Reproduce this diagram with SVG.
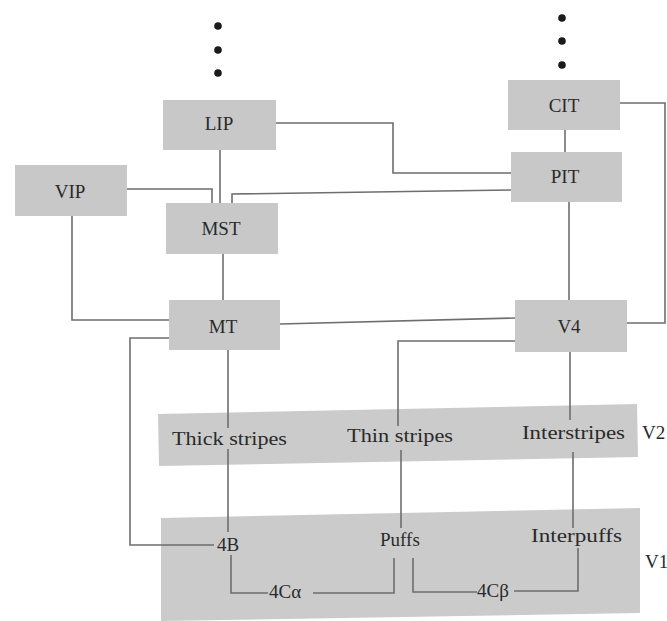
<svg xmlns="http://www.w3.org/2000/svg" width="667" height="621" viewBox="0 0 667 621">
<style>
.box{fill:#c8c8c8;stroke:none}
.bar{fill:#cbcbcb;stroke:none}
.lbl{font-family:"Liberation Serif","Times New Roman",serif;font-size:19px;fill:#2a2a2a;text-anchor:middle}
.sm{font-family:"Liberation Serif","Times New Roman",serif;font-size:19px;fill:#2a2a2a}
.ln{fill:none;stroke:#6e6e6e;stroke-width:1.6}
.dot{fill:#1a1a1a}
</style>
<rect width="667" height="621" fill="#ffffff"/>
<g id="V2">
<polygon class="bar" points="158,414 637,404 638,457 159,466"/>
</g>
<g id="V1">
<polygon class="bar" points="161,518 640,508 640,613 161,621"/>
</g>
<g id="connectors">
<path class="ln" d="M276,123 H393 V173 H511"/>
<path class="ln" d="M220,150 V203"/>
<path class="ln" d="M127,189 H212 V203"/>
<path class="ln" d="M511,190 L232,194 V203"/>
<path class="ln" d="M565,130 V152"/>
<path class="ln" d="M620,103 H665 V323 H627"/>
<path class="ln" d="M569,202 V300"/>
<path class="ln" d="M223,254 V300"/>
<path class="ln" d="M72,216 V320 H169"/>
<path class="ln" d="M280,324 L515,318"/>
<path class="ln" d="M169,338 H130 V545 H214"/>
<path class="ln" d="M228,350 V428 M228,449 V532"/>
<path class="ln" d="M231,555 V593 H268"/>
<path class="ln" d="M313,593 H394 V558"/>
<path class="ln" d="M413,558 V592 H477"/>
<path class="ln" d="M514,591 H578 V548"/>
<path class="ln" d="M570,352 V420 M573,452 V528"/>
<path class="ln" d="M515,341 H398 V426"/>
<path class="ln" d="M401,450 V528"/>
</g>
<g id="dots-left">
<circle class="dot" cx="218" cy="26" r="3.8"/>
<circle class="dot" cx="218" cy="50" r="3.8"/>
<circle class="dot" cx="218" cy="73" r="3.8"/>
</g>
<g id="dots-right">
<circle class="dot" cx="562" cy="18" r="3.8"/>
<circle class="dot" cx="562" cy="41" r="3.8"/>
<circle class="dot" cx="562" cy="65" r="3.8"/>
</g>
<g id="LIP"><rect class="box" x="163" y="100" width="113" height="50"/><text class="lbl" x="219" y="130">LIP</text></g>
<g id="VIP"><rect class="box" x="15" y="165" width="112" height="51"/><text class="lbl" x="70" y="198">VIP</text></g>
<g id="MST"><rect class="box" x="166" y="203" width="112" height="51"/><text class="lbl" x="221" y="235">MST</text></g>
<g id="MT"><rect class="box" x="169" y="300" width="111" height="50"/><text class="lbl" x="223" y="333">MT</text></g>
<g id="CIT"><rect class="box" x="508" y="80" width="112" height="50"/><text class="lbl" x="564" y="112">CIT</text></g>
<g id="PIT"><rect class="box" x="511" y="152" width="111" height="50"/><text class="lbl" x="565" y="183">PIT</text></g>
<g id="V4"><rect class="box" x="515" y="300" width="112" height="52"/><text class="lbl" x="569" y="333">V4</text></g>
<g id="V2-labels">
<text class="sm" x="172" y="445" textLength="115" lengthAdjust="spacingAndGlyphs">Thick stripes</text>
<text class="sm" x="347" y="442" textLength="106" lengthAdjust="spacingAndGlyphs">Thin stripes</text>
<text class="sm" x="522" y="439" textLength="103" lengthAdjust="spacingAndGlyphs">Interstripes</text>
<text class="sm" x="642" y="439">V2</text>
</g>
<g id="V1-labels">
<text class="sm" x="217" y="551">4B</text>
<text class="sm" x="380" y="546">Puffs</text>
<text class="sm" x="531" y="542" textLength="91" lengthAdjust="spacingAndGlyphs">Interpuffs</text>
<text class="sm" x="269" y="598">4Cα</text>
<text class="sm" x="477" y="597">4Cβ</text>
<text class="sm" x="645" y="568">V1</text>
</g>
</svg>
